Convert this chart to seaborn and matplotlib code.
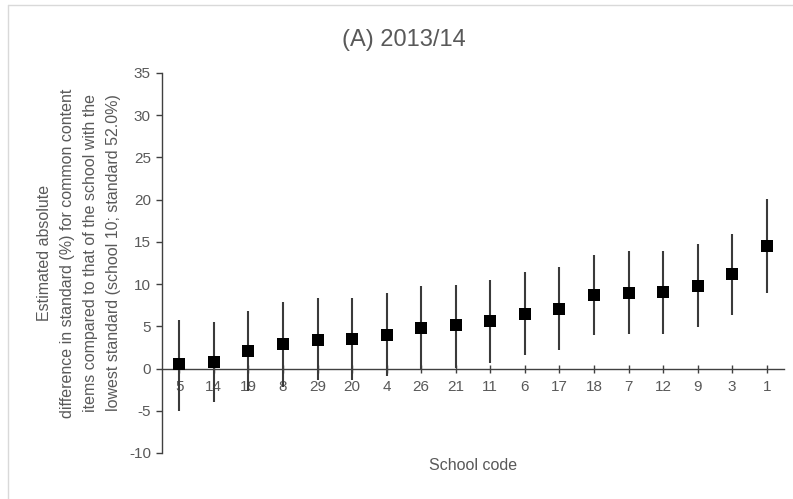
import matplotlib
matplotlib.use("Agg")
import matplotlib.pyplot as plt
import pandas as pd
import seaborn as sns
from matplotlib.lines import Line2D

# ---------------------------------------------------------------------------
# Données
# ---------------------------------------------------------------------------
ecoles = ["5", "14", "19", "8", "29", "20", "4", "26", "21", "11",
          "6", "17", "18", "7", "12", "9", "3", "1"]
estimation = [0.5, 0.75, 2.1, 2.85, 3.35, 3.5, 4.0, 4.8, 5.2, 5.65,
              6.5, 7.1, 8.75, 8.95, 9.1, 9.75, 11.25, 14.5]
borne_inf = [-5.0, -4.0, -2.6, -2.2, -1.4, -1.3, -0.9, -0.1, 0.1, 0.7,
             1.65, 2.2, 4.0, 4.15, 4.15, 4.9, 6.4, 9.0]
borne_sup = [5.7, 5.5, 6.8, 7.85, 8.3, 8.3, 8.95, 9.75, 9.95, 10.5,
             11.4, 12.0, 13.5, 13.9, 13.9, 14.7, 15.95, 20.1]

df = pd.DataFrame({"school": ecoles, "est": estimation,
                   "lo": borne_inf, "hi": borne_sup})

GRIS = "#595959"

sns.set_theme(style="white")
plt.rcParams["font.family"] = ["Liberation Sans", "DejaVu Sans"]
plt.rcParams["axes.unicode_minus"] = False

fig = plt.figure(figsize=(7.93, 4.99), dpi=100)
ax = fig.add_axes([162 / 793, 1 - 453 / 499, 622 / 793, 380 / 499])

# barres d'erreur puis points
ax.vlines(df["school"], df["lo"], df["hi"], color="#3a3a3a", linewidth=1.5, zorder=2)
sns.scatterplot(data=df, x="school", y="est", marker="s", s=75,
                color="black", edgecolor="black", linewidth=0, ax=ax, zorder=3)

ax.set_xlim(-0.5, len(ecoles) - 0.5)
ax.set_ylim(-10, 35)
ax.set_yticks(range(-10, 36, 5))

for side in ["top", "right"]:
    ax.spines[side].set_visible(False)
ax.spines["bottom"].set_position(("data", 0))
for side in ["left", "bottom"]:
    ax.spines[side].set_color("#404040")
    ax.spines[side].set_linewidth(1.0)

ax.tick_params(axis="y", direction="out", length=4, width=1, color="#404040",
               labelsize=11, labelcolor=GRIS, left=True, pad=4)
ax.tick_params(axis="x", direction="inout", length=6, width=1, color="#404040",
               labelsize=11, labelcolor=GRIS, bottom=True, pad=5)
ax.set_xlabel("")
ax.set_ylabel("")

fig.text(404 / 793, 1 - 40 / 499, "(A) 2013/14", ha="center", va="center",
         fontsize=17, color=GRIS)
fig.text(473 / 793, 1 - 466 / 499, "School code", ha="center", va="center",
         fontsize=11.5, color=GRIS)
fig.text(79 / 793, 1 - 253 / 499,
         "Estimated absolute\n"
         "difference in standard (%) for common content\n"
         "items compared to that of the school with the\n"
         "lowest standard (school 10; standard 52.0%)",
         rotation=90, ha="center", va="center", multialignment="center",
         fontsize=11.5, color=GRIS, linespacing=1.65)

# cadre gris clair du graphique
fig.add_artist(Line2D([8 / 793, 1], [1 - 5 / 499, 1 - 5 / 499],
                      transform=fig.transFigure, color="#d9d9d9", linewidth=1))
fig.add_artist(Line2D([8 / 793, 8 / 793], [0, 1 - 5 / 499],
                      transform=fig.transFigure, color="#d9d9d9", linewidth=1))

fig.savefig("out.png", dpi=100, facecolor="white")
plt.close(fig)
